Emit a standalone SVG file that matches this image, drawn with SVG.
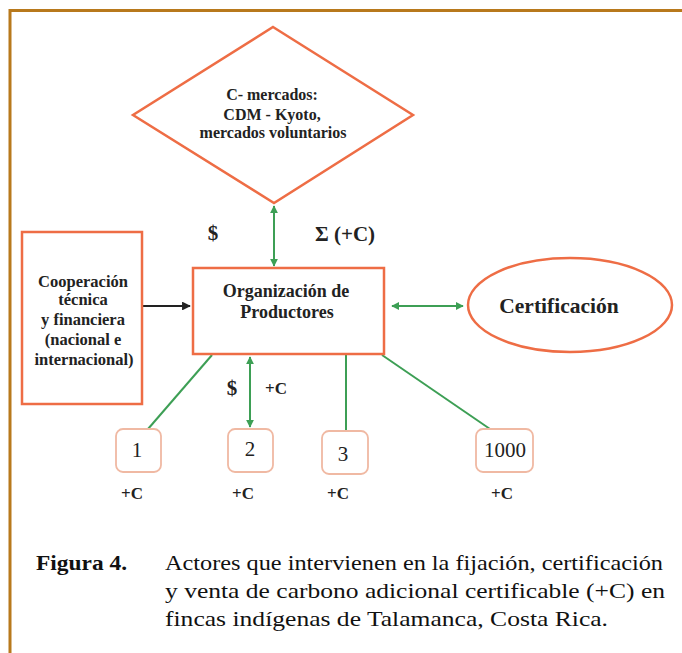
<svg xmlns="http://www.w3.org/2000/svg" width="682" height="653" viewBox="0 0 682 653">
<style>
.frame{stroke:#b8791c;stroke-width:3;fill:none}
.shape{fill:#fff;stroke:#ee6d45;stroke-width:2.5}
.small{fill:#fff;stroke:#f0b9a3;stroke-width:1.8}
.g{stroke:#3d9f55;stroke-width:2;fill:none}
.k{stroke:#222;stroke-width:2.2;fill:none}
.b{font-family:"Liberation Serif","Times New Roman",serif;font-weight:bold;fill:#222;text-anchor:middle}
.r{font-family:"Liberation Serif","Times New Roman",serif;fill:#222;text-anchor:middle}
.cap{font-family:"Liberation Serif","Times New Roman",serif;font-size:22px;fill:#111}
</style>
<defs>
<marker id="ag" viewBox="0 0 10 10" refX="9" refY="5" markerWidth="4" markerHeight="4" orient="auto-start-reverse"><path d="M0,0 L10,5 L0,10 z" fill="#3d9f55"/></marker>
<marker id="ak" viewBox="0 0 10 10" refX="9" refY="5" markerWidth="4" markerHeight="4" orient="auto"><path d="M0,0 L10,5 L0,10 z" fill="#222"/></marker>
</defs>
<rect width="682" height="653" fill="#fff"/>
<path class="frame" d="M10,653 V10.5 H682"/>

<g id="connectors">
<line class="g" x1="274" y1="206" x2="274" y2="266" marker-start="url(#ag)" marker-end="url(#ag)"/>
<line class="k" x1="142" y1="306" x2="190" y2="306" marker-end="url(#ak)"/>
<line class="g" x1="392" y1="306" x2="463" y2="306" marker-start="url(#ag)" marker-end="url(#ag)"/>
<line class="g" x1="212" y1="355" x2="148" y2="429"/>
<line class="g" x1="250" y1="357" x2="250" y2="427" marker-start="url(#ag)" marker-end="url(#ag)"/>
<line class="g" x1="346" y1="355" x2="346" y2="431"/>
<line class="g" x1="382" y1="355" x2="490" y2="429"/>
</g>

<g id="mercados">
<polygon class="shape" points="273,27 413,115 274,203 133,115"/>
<text class="b" font-size="16" x="272" y="100">C- mercados:</text>
<text class="b" font-size="16" x="272" y="120">CDM - Kyoto,</text>
<text class="b" font-size="16" x="273" y="138">mercados voluntarios</text>
</g>

<g id="labels-top">
<text class="b" font-size="21" x="213" y="240">$</text>
<text class="b" font-size="21" x="345" y="241">Σ (+C)</text>
</g>

<g id="cooperacion">
<rect class="shape" x="22" y="232" width="120" height="172"/>
<text class="b" font-size="16.5" x="83" y="287">Cooperación</text>
<text class="b" font-size="16.5" x="83" y="305">técnica</text>
<text class="b" font-size="16.5" x="83" y="325">y financiera</text>
<text class="b" font-size="16.5" x="83" y="345">(nacional e</text>
<text class="b" font-size="16.5" x="84" y="365">internacional)</text>
</g>

<g id="organizacion">
<rect class="shape" x="193" y="268" width="191" height="86"/>
<text class="b" font-size="18" x="286" y="297">Organización de</text>
<text class="b" font-size="18" x="287" y="318">Productores</text>
</g>

<g id="certificacion">
<ellipse class="shape" cx="570" cy="305" rx="102" ry="47"/>
<text class="b" font-size="21.5" x="559" y="313">Certificación</text>
</g>

<g id="labels-mid">
<text class="b" font-size="21" x="232" y="395">$</text>
<text class="b" font-size="17" x="276" y="394">+C</text>
</g>

<g id="finca1">
<rect class="small" x="116" y="429" width="45" height="43" rx="7"/>
<text class="r" font-size="21" x="137" y="457">1</text>
</g>
<g id="finca2">
<rect class="small" x="228" y="429" width="45" height="43" rx="7"/>
<text class="r" font-size="21" x="250" y="456">2</text>
</g>
<g id="finca3">
<rect class="small" x="322" y="431" width="46" height="43" rx="7"/>
<text class="r" font-size="21" x="343" y="461">3</text>
</g>
<g id="finca1000">
<rect class="small" x="476" y="429" width="57" height="43" rx="7"/>
<text class="r" font-size="21" x="505" y="457">1000</text>
</g>

<g id="labels-bottom">
<text class="b" font-size="17" x="132" y="499">+C</text>
<text class="b" font-size="17" x="243" y="499">+C</text>
<text class="b" font-size="17" x="338" y="499">+C</text>
<text class="b" font-size="17" x="502" y="499">+C</text>
</g>

<g id="caption">
<text class="cap" font-weight="bold" x="36" y="570" textLength="91" lengthAdjust="spacingAndGlyphs">Figura 4.</text>
<text class="cap" x="165" y="570" textLength="498" lengthAdjust="spacingAndGlyphs">Actores que intervienen en la fijación, certificación</text>
<text class="cap" x="165" y="598" textLength="500" lengthAdjust="spacingAndGlyphs">y venta de carbono adicional certificable (+C) en</text>
<text class="cap" x="165" y="626" textLength="443" lengthAdjust="spacingAndGlyphs">fincas indígenas de Talamanca, Costa Rica.</text>
</g>
</svg>
